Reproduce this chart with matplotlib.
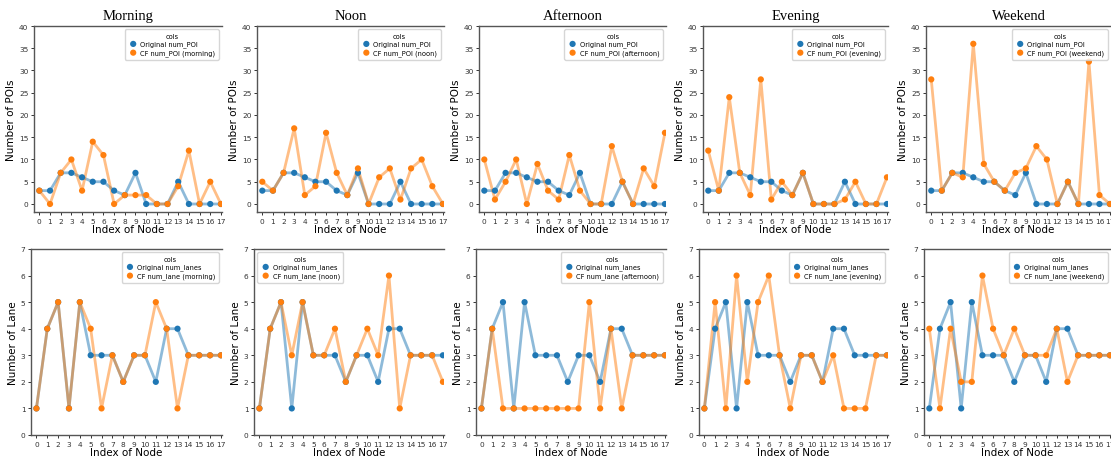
import matplotlib as mpl
mpl.use('Agg')
import matplotlib.pyplot as plt
import numpy as np

nodes = list(range(18))
periods = ['Morning', 'Noon', 'Afternoon', 'Evening', 'Weekend']

orig_poi = [3, 3, 7, 7, 6, 5, 5, 3, 2, 7, 0, 0, 0, 5, 0, 0, 0, 0]
cf_poi_morning = [3, 0, 7, 10, 3, 14, 11, 0, 2, 2, 2, 0, 0, 4, 12, 0, 5, 0]
cf_poi_noon = [5, 3, 7, 17, 2, 4, 16, 7, 2, 8, 0, 6, 8, 1, 8, 10, 4, 0]
cf_poi_afternoon = [10, 1, 5, 10, 0, 9, 3, 1, 11, 3, 0, 0, 13, 5, 0, 8, 4, 16]
cf_poi_evening = [12, 3, 24, 7, 2, 28, 1, 5, 2, 7, 0, 0, 0, 1, 5, 0, 0, 6]
cf_poi_weekend = [28, 3, 7, 6, 36, 9, 5, 3, 7, 8, 13, 10, 0, 5, 0, 32, 2, 0]

orig_lanes = [1, 4, 5, 1, 5, 3, 3, 3, 2, 3, 3, 2, 4, 4, 3, 3, 3, 3]
cf_lane_morning = [1, 4, 5, 1, 5, 4, 1, 3, 2, 3, 3, 5, 4, 1, 3, 3, 3, 3]
cf_lane_noon = [1, 4, 5, 3, 5, 3, 3, 4, 2, 3, 4, 3, 6, 1, 3, 3, 3, 2]
cf_lane_afternoon = [1, 4, 1, 1, 1, 1, 1, 1, 1, 1, 5, 1, 4, 1, 3, 3, 3, 3]
cf_lane_evening = [1, 5, 1, 6, 2, 5, 6, 3, 1, 3, 3, 2, 3, 1, 1, 1, 3, 3]
cf_lane_weekend = [4, 1, 4, 2, 2, 6, 4, 3, 4, 3, 3, 3, 4, 2, 3, 3, 3, 3]

cf_poi = [cf_poi_morning, cf_poi_noon, cf_poi_afternoon, cf_poi_evening, cf_poi_weekend]
cf_lane = [cf_lane_morning, cf_lane_noon, cf_lane_afternoon, cf_lane_evening, cf_lane_weekend]

W, H = 1111, 460
fig = plt.figure(figsize=(W / 100, H / 100), dpi=100)

blue = '#1f77b4'
orange = '#ff7f0e'
spine_col = '#555555'

top_left = [34, 257, 479, 703, 926]
bot_left = [31, 254, 476, 699, 924]
right_edge = [222, 444, 666, 888, 1111]


def panel(left, right, top, bottom, orig, cf, orig_lab, cf_lab, ylab, ylim, yticks, legloc, title=None):
    ax = fig.add_axes([left / W, 1 - bottom / H, (right - left) / W, (bottom - top) / H])
    ax.plot(nodes, orig, color=blue, alpha=0.5, lw=2, zorder=1)
    ax.plot(nodes, cf, color=orange, alpha=0.5, lw=2, zorder=1)
    ax.scatter(nodes, orig, color=blue, s=20, zorder=3, label=orig_lab, edgecolors='none')
    ax.scatter(nodes, cf, color=orange, s=20, zorder=4, label=cf_lab, edgecolors='none')
    ax.set_xlim(-0.5, 17.1)
    ax.set_ylim(*ylim)
    ax.set_xticks(nodes)
    ax.set_yticks(yticks)
    ax.tick_params(labelsize=5.3, length=2.5, width=0.7, colors='#333333', pad=1.5)
    for s in ['left', 'top', 'bottom']:
        ax.spines[s].set_color(spine_col)
        ax.spines[s].set_linewidth(1.0)
    ax.spines['right'].set_visible(False)
    ax.set_xlabel('Index of Node', fontsize=7.5, labelpad=0.5)
    ax.set_ylabel(ylab, fontsize=7.5, labelpad=2)
    leg = ax.legend(title='cols', loc=legloc, fontsize=4.8, title_fontsize=4.8,
                    frameon=True, borderpad=0.5, labelspacing=0.3, handletextpad=0.3,
                    handlelength=1.5, markerscale=1.0)
    leg.get_frame().set_edgecolor('#cccccc')
    if title:
        ax.set_title(title, fontsize=10.5, family='Liberation Serif', pad=5)
    return ax


for i, p in enumerate(periods):
    panel(top_left[i], right_edge[i], 27, 213, orig_poi, cf_poi[i],
          'Original num_POI', 'CF num_POI (%s)' % p.lower(), 'Number of POIs',
          (-1.8, 40), range(0, 41, 5), 'upper right', title=p)
    panel(bot_left[i], right_edge[i], 250, 436, orig_lanes, cf_lane[i],
          'Original num_lanes', 'CF num_lane (%s)' % p.lower(), 'Number of Lane',
          (0, 7), range(0, 8), 'upper left' if p == 'Noon' else 'upper right')

fig.savefig('out.png', dpi=100)
